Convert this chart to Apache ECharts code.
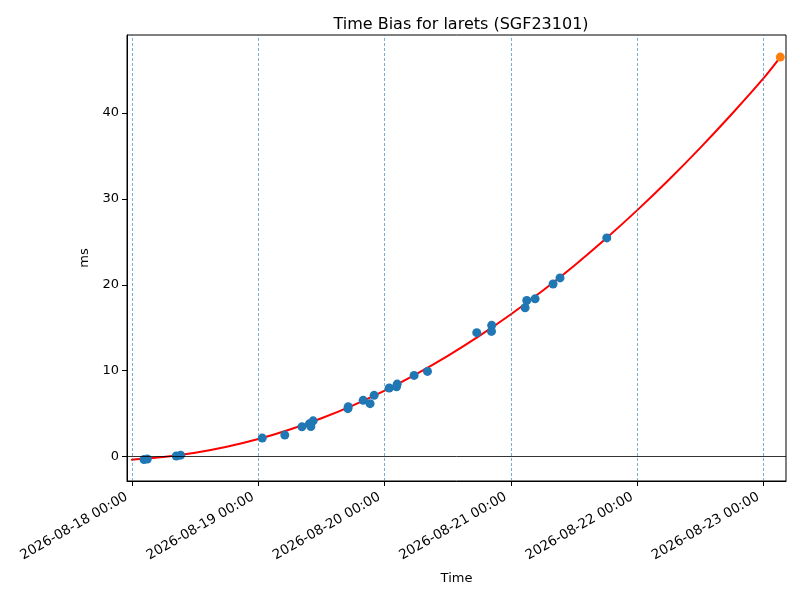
<!DOCTYPE html>
<html>
<head>
<meta charset="utf-8">
<script src="https://cdn.jsdelivr.net/npm/echarts@6/dist/echarts.min.js"></script>
<style>
  html, body { margin: 0; padding: 0; background: #fff; }
  #chart { width: 800px; height: 600px; }
</style>
</head>
<body>
<div id="chart"></div>
<script>
// measured time bias points (blue)
const obsTimes = [
    '2026-08-18 02:17', '2026-08-18 02:54', '2026-08-18 08:25', '2026-08-18 09:14',
    '2026-08-19 00:45', '2026-08-19 05:02', '2026-08-19 08:17', '2026-08-19 09:42',
    '2026-08-19 09:59', '2026-08-19 10:25', '2026-08-19 17:01', '2026-08-19 17:05',
    '2026-08-19 19:55', '2026-08-19 21:14', '2026-08-19 22:00', '2026-08-20 00:52',
    '2026-08-20 02:15', '2026-08-20 02:23', '2026-08-20 05:36', '2026-08-20 08:08',
    '2026-08-20 17:30', '2026-08-20 20:18', '2026-08-20 20:20', '2026-08-21 02:41',
    '2026-08-21 03:00', '2026-08-21 04:35', '2026-08-21 08:00', '2026-08-21 09:19',
    '2026-08-21 18:12'
];
const obsBias = [
    -0.33, -0.27, 0.08, 0.18,
    2.16, 2.51, 3.47, 3.82,
    3.51, 4.17, 5.59, 5.82,
    6.56, 6.17, 7.14, 7.99,
    8.14, 8.45, 9.46, 9.92,
    14.43, 14.58, 15.28, 17.33,
    18.17, 18.37, 20.10, 20.80,
    25.46
];

// predicted point (orange)
const predTime = '2026-08-23 03:10';
const predBias = 46.5;

// fitted curve (red), every 6 hours
const fitTimes = [
    '2026-08-17 23:50', '2026-08-18 00:00', '2026-08-18 06:00', '2026-08-18 12:00',
    '2026-08-18 18:00', '2026-08-19 00:00', '2026-08-19 06:00', '2026-08-19 12:00',
    '2026-08-19 18:00', '2026-08-20 00:00', '2026-08-20 06:00', '2026-08-20 12:00',
    '2026-08-20 18:00', '2026-08-21 00:00', '2026-08-21 06:00', '2026-08-21 12:00',
    '2026-08-21 18:00', '2026-08-22 00:00', '2026-08-22 06:00', '2026-08-22 12:00',
    '2026-08-22 18:00', '2026-08-23 00:00', '2026-08-23 03:10'
];
const fitBias = [
    -0.37, -0.35, -0.05, 0.45,
    1.15, 2.05, 3.16, 4.47,
    5.98, 7.69, 9.61, 11.73,
    14.05, 16.57, 19.30, 22.23,
    25.36, 28.69, 32.23, 35.97,
    39.91, 44.05, 46.5
];

const xTicks = ['2026-08-18 00:00', '2026-08-19 00:00', '2026-08-20 00:00',
                '2026-08-21 00:00', '2026-08-22 00:00', '2026-08-23 00:00'];
const yTicks = [0, 10, 20, 30, 40];

const xMin = '2026-08-17 23:03';
const xMax = '2026-08-23 04:15';
const yMin = -2.83;
const yMax = 49.07;

function ts(s) {
    return +new Date(s.replace(' ', 'T') + ':00');
}
function pad(n) { return n < 10 ? '0' + n : '' + n; }
function fmt(v) {
    let d = new Date(v);
    return d.getFullYear() + '-' + pad(d.getMonth() + 1) + '-' + pad(d.getDate()) +
        ' ' + pad(d.getHours()) + ':' + pad(d.getMinutes());
}

let fitData = fitTimes.map((t, i) => [ts(t), fitBias[i]]);
let obsData = obsTimes.map((t, i) => [ts(t), obsBias[i]]);
let tickVals = xTicks.map(ts);

const font = 'DejaVu Sans';

let myChart = echarts.init(document.getElementById('chart'));
let option = {
    animation: false,
    backgroundColor: '#fff',
    title: {
        text: 'Time Bias for larets (SGF23101)',
        left: 456,
        top: 12,
        textAlign: 'center',
        textStyle: { fontFamily: font, fontSize: 16, fontWeight: 'normal', color: '#000' }
    },
    grid: {
        left: 127, right: 14, top: 35, bottom: 119,
        show: true, borderColor: '#000', borderWidth: 1
    },
    xAxis: {
        type: 'value',
        min: ts(xMin),
        max: ts(xMax),
        name: 'Time',
        nameLocation: 'middle',
        nameGap: 91,
        nameTextStyle: { fontFamily: font, fontSize: 13, color: '#000' },
        axisLine: { show: true, onZero: false, lineStyle: { color: '#000', width: 1 } },
        axisTick: { show: true, length: 5, customValues: tickVals, lineStyle: { color: '#000' } },
        axisLabel: {
            customValues: tickVals,
            rotate: 30,
            margin: 12,
            padding: [0, 6, 0, 0],
            fontFamily: font, fontSize: 13.5, color: '#000',
            formatter: function (v) { return fmt(v); }
        },
        splitLine: { show: false }
    },
    yAxis: {
        type: 'value',
        min: yMin,
        max: yMax,
        name: 'ms',
        nameLocation: 'middle',
        nameGap: 35,
        nameTextStyle: { fontFamily: font, fontSize: 13, color: '#000' },
        axisLine: { show: true, onZero: false, lineStyle: { color: '#000', width: 1 } },
        axisTick: { show: true, length: 5, customValues: yTicks, lineStyle: { color: '#000' } },
        axisLabel: {
            customValues: yTicks,
            margin: 8,
            fontFamily: font, fontSize: 13, color: '#000'
        },
        splitLine: { show: false }
    },
    series: [
        {
            name: 'fit',
            type: 'line',
            data: fitData,
            smooth: 0.3,
            showSymbol: false,
            lineStyle: { color: '#ff0000', width: 2 },
            z: 2,
            markLine: {
                silent: true,
                symbol: ['none', 'none'],
                label: { show: false },
                data: tickVals.map(v => ({
                    xAxis: v,
                    lineStyle: { color: '#1f77b4', width: 0.6, type: [3, 2] }
                })).concat([{
                    yAxis: 0,
                    lineStyle: { color: '#000', width: 0.8, type: 'solid' }
                }])
            }
        },
        {
            name: 'observed',
            type: 'scatter',
            data: obsData,
            symbolSize: 9,
            itemStyle: { color: '#1f77b4', opacity: 1 },
            z: 3
        },
        {
            name: 'predicted',
            type: 'scatter',
            data: [[ts(predTime), predBias]],
            symbolSize: 9,
            itemStyle: { color: '#ff7f0e', opacity: 1 },
            z: 4
        }
    ]
};
myChart.setOption(option);
</script>
</body>
</html>
